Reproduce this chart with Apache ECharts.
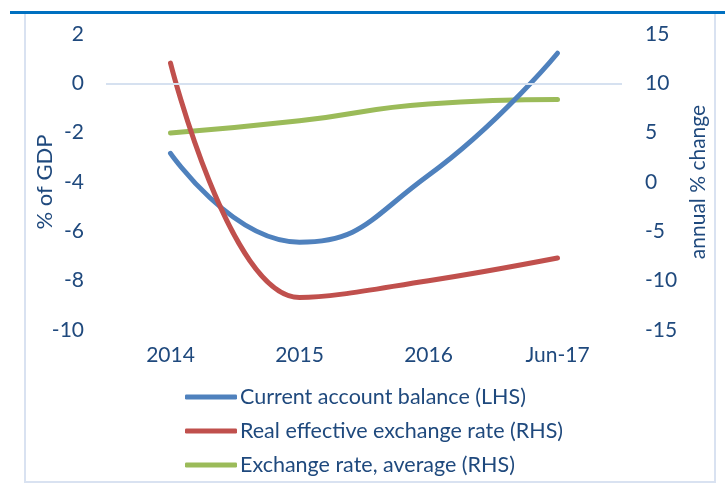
<!DOCTYPE html>
<html>
<head>
<meta charset="utf-8">
<script src="https://cdn.jsdelivr.net/npm/echarts@6/dist/echarts.min.js"></script>
<style>
    html, body { margin: 0; padding: 0; background: #fff; }
    #chartBox { width: 725px; height: 485px; }
</style>
</head>
<body>
<div id="chartBox"></div>
<script>
    var categories = ['2014', '2015', '2016', 'Jun-17'];
    var currentAccount = [-2.84, -6.44, -3.73, 1.22];   // % of GDP, LHS
    var realEffRate = [12.05, -11.7, -10.0, -7.7];      // annual % change, RHS
    var exchRateAvg = [4.96, 6.2, 7.9, 8.35];           // annual % change, RHS

    var textColor = '#1F497D';
    var fontName = 'Lato';

    var chart = echarts.init(document.getElementById('chartBox'));
    chart.setOption({
        animation: false,
        textStyle: { fontFamily: fontName, color: textColor },
        graphic: [
            {   // outer light frame
                type: 'rect',
                shape: { x: 25, y: 13, width: 690, height: 469 },
                style: { fill: 'none', stroke: '#D9E2F1', lineWidth: 2 },
                silent: true
            },
            {   // blue top rule
                type: 'rect',
                shape: { x: 10, y: 11, width: 715, height: 3 },
                style: { fill: '#0070C0' },
                silent: true
            }
        ],
        grid: { left: 106, right: 103, top: 34, bottom: 155 },
        legend: {
            orient: 'vertical',
            left: 180,
            top: 381,
            itemWidth: 52,
            itemHeight: 5,
            itemGap: 12,
            icon: 'roundRect',
            textStyle: { fontFamily: fontName, fontSize: 21.5, color: textColor, padding: [0, 0, 0, -2] },
            data: ['Current account balance (LHS)', 'Real effective exchange rate (RHS)', 'Exchange rate, average (RHS)']
        },
        xAxis: {
            type: 'category',
            data: categories,
            boundaryGap: true,
            axisLine: { show: false },
            axisTick: { show: false },
            axisLabel: { fontSize: 21, color: textColor, margin: 15 },
            splitLine: { show: false }
        },
        yAxis: [
            {
                type: 'value',
                min: -10, max: 2, interval: 2,
                name: '% of GDP',
                nameLocation: 'middle',
                nameGap: 50,
                nameMoveOverlap: false,
                nameTextStyle: { fontSize: 22, color: textColor },
                axisLine: { show: false },
                axisTick: { show: false },
                axisLabel: { fontSize: 21, color: textColor, margin: 22 },
                splitLine: { show: false }
            },
            {
                type: 'value',
                min: -15, max: 15, interval: 5,
                name: 'annual % change',
                nameLocation: 'middle',
                nameGap: 64,
                nameRotate: 90,
                nameTextStyle: { fontSize: 21, color: textColor },
                axisLine: { show: false },
                axisTick: { show: false },
                axisLabel: { fontSize: 21, color: textColor, margin: 23 },
                splitLine: { show: false }
            }
        ],
        series: [
            {
                name: 'Current account balance (LHS)',
                type: 'line',
                yAxisIndex: 0,
                data: currentAccount,
                smooth: 0.5,
                showSymbol: false,
                lineStyle: { width: 5, color: '#4F81BD', cap: 'round' },
                itemStyle: { color: '#4F81BD' },
                markLine: {
                    silent: true,
                    symbol: 'none',
                    label: { show: false },
                    lineStyle: { type: 'solid', color: '#D6E1F0', width: 2 },
                    data: [{ yAxis: 0 }]
                },
                z: 3
            },
            {
                name: 'Real effective exchange rate (RHS)',
                type: 'line',
                yAxisIndex: 1,
                data: realEffRate,
                smooth: 0.4,
                showSymbol: false,
                lineStyle: { width: 5, color: '#C0504D', cap: 'round' },
                itemStyle: { color: '#C0504D' },
                z: 4
            },
            {
                name: 'Exchange rate, average (RHS)',
                type: 'line',
                yAxisIndex: 1,
                data: exchRateAvg,
                smooth: 0.5,
                showSymbol: false,
                lineStyle: { width: 5, color: '#9BBB59', cap: 'round' },
                itemStyle: { color: '#9BBB59' },
                z: 2
            }
        ]
    });
</script>
</body>
</html>
